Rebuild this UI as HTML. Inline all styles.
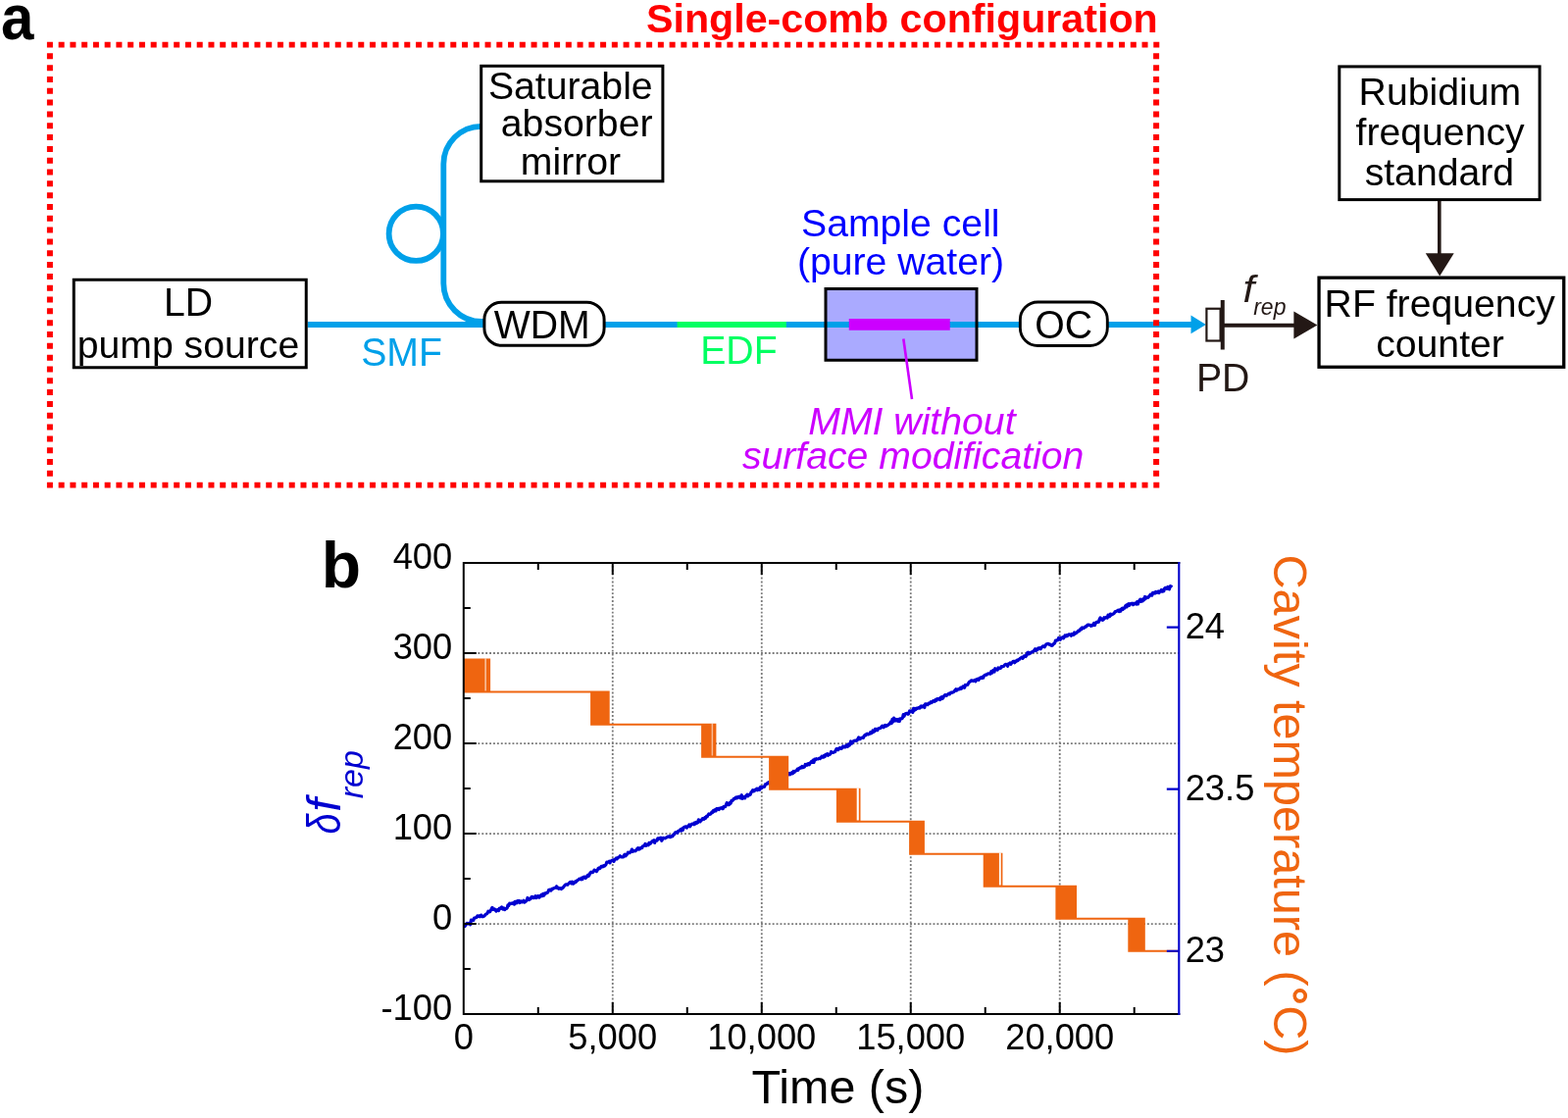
<!DOCTYPE html>
<html><head><meta charset="utf-8"><title>Single-comb configuration</title>
<style>html,body{margin:0;padding:0;background:#fff;width:1599px;height:1140px;overflow:hidden}svg{display:block}</style>
</head><body>
<svg width="1599" height="1140" viewBox="0 0 1599 1140" font-family='"Liberation Sans", Arial, Helvetica, sans-serif'><text transform="translate(1.0,39.6) scale(0.925,1)" font-size="65" font-weight="bold" fill="#000">a</text>
<text x="659.00" y="33.00" font-size="41.2" fill="#ff0000" font-weight="bold">Single-comb configuration</text>
<path d="M313.75 331H500" stroke="#00a0e9" stroke-width="5.8" fill="none"/>
<path d="M491 128.8A38.5 38.5 0 0 0 452.3 167.3V289A39 39 0 0 0 491.3 328H496" stroke="#00a0e9" stroke-width="5.8" fill="none"/>
<circle cx="424.3" cy="238.25" r="27.7" stroke="#00a0e9" stroke-width="5.8" fill="none"/>
<path d="M615 331H1216" stroke="#00a0e9" stroke-width="5.8" fill="none"/>
<path d="M690.6 331H801.8" stroke="#00ff62" stroke-width="6" fill="none"/>
<path d="M1214.5 321.5L1229.8 330.9L1214.5 340.3z" fill="#00a0e9"/>
<rect x="75.25" y="285.25" width="237.00" height="89.50" rx="0" fill="#fff" stroke="#000" stroke-width="3"/>
<rect x="490.70" y="67.30" width="185.20" height="117.50" rx="0" fill="#fff" stroke="#000" stroke-width="3"/>
<rect x="493.90" y="308.20" width="122.20" height="44.10" rx="17.5" fill="#fff" stroke="#000" stroke-width="3.0"/>
<rect x="1040.35" y="307.95" width="88.95" height="44.60" rx="18" fill="#fff" stroke="#000" stroke-width="2.9"/>
<rect x="842" y="294.5" width="154" height="72.75" fill="#aaaaff"/>
<path d="M842 331H996" stroke="#00a0e9" stroke-width="5.8"/>
<rect x="865.75" y="325" width="103" height="11.75" fill="#cc00ff"/>
<rect x="842" y="294.5" width="154" height="72.75" fill="none" stroke="#000" stroke-width="3"/>
<path d="M921.3 345.5L930 407" stroke="#cc00ff" stroke-width="2.6"/>
<rect x="1365.80" y="67.90" width="204.30" height="135.70" rx="0" fill="#fff" stroke="#000" stroke-width="3"/>
<rect x="1345.05" y="283.15" width="249.70" height="91.10" rx="0" fill="#fff" stroke="#000" stroke-width="3.3"/>
<rect x="1230.4" y="314.75" width="14.2" height="32.75" fill="#fff" stroke="#231815" stroke-width="2.2"/>
<rect x="1244.75" y="306" width="4" height="50.5" fill="#231815"/>
<path d="M1248 331.8H1321" stroke="#231815" stroke-width="4"/>
<path d="M1319.4 317.5L1343.4 331.6L1319.4 345.6z" fill="#231815"/>
<path d="M1467.8 205H1467.8V259" stroke="#231815" stroke-width="3.6"/>
<path d="M1453.8 258.2H1482.7L1468.2 281.5z" fill="#231815"/>
<path d="M47.90 42.7h6v5.8h-6zM47.90 491.7h6v5.8h-6zM59.65 42.7h6v5.8h-6zM59.65 491.7h6v5.8h-6zM71.41 42.7h6v5.8h-6zM71.41 491.7h6v5.8h-6zM83.16 42.7h6v5.8h-6zM83.16 491.7h6v5.8h-6zM94.92 42.7h6v5.8h-6zM94.92 491.7h6v5.8h-6zM106.67 42.7h6v5.8h-6zM106.67 491.7h6v5.8h-6zM118.42 42.7h6v5.8h-6zM118.42 491.7h6v5.8h-6zM130.18 42.7h6v5.8h-6zM130.18 491.7h6v5.8h-6zM141.93 42.7h6v5.8h-6zM141.93 491.7h6v5.8h-6zM153.69 42.7h6v5.8h-6zM153.69 491.7h6v5.8h-6zM165.44 42.7h6v5.8h-6zM165.44 491.7h6v5.8h-6zM177.19 42.7h6v5.8h-6zM177.19 491.7h6v5.8h-6zM188.95 42.7h6v5.8h-6zM188.95 491.7h6v5.8h-6zM200.70 42.7h6v5.8h-6zM200.70 491.7h6v5.8h-6zM212.46 42.7h6v5.8h-6zM212.46 491.7h6v5.8h-6zM224.21 42.7h6v5.8h-6zM224.21 491.7h6v5.8h-6zM235.96 42.7h6v5.8h-6zM235.96 491.7h6v5.8h-6zM247.72 42.7h6v5.8h-6zM247.72 491.7h6v5.8h-6zM259.47 42.7h6v5.8h-6zM259.47 491.7h6v5.8h-6zM271.23 42.7h6v5.8h-6zM271.23 491.7h6v5.8h-6zM282.98 42.7h6v5.8h-6zM282.98 491.7h6v5.8h-6zM294.73 42.7h6v5.8h-6zM294.73 491.7h6v5.8h-6zM306.49 42.7h6v5.8h-6zM306.49 491.7h6v5.8h-6zM318.24 42.7h6v5.8h-6zM318.24 491.7h6v5.8h-6zM330.00 42.7h6v5.8h-6zM330.00 491.7h6v5.8h-6zM341.75 42.7h6v5.8h-6zM341.75 491.7h6v5.8h-6zM353.50 42.7h6v5.8h-6zM353.50 491.7h6v5.8h-6zM365.26 42.7h6v5.8h-6zM365.26 491.7h6v5.8h-6zM377.01 42.7h6v5.8h-6zM377.01 491.7h6v5.8h-6zM388.77 42.7h6v5.8h-6zM388.77 491.7h6v5.8h-6zM400.52 42.7h6v5.8h-6zM400.52 491.7h6v5.8h-6zM412.27 42.7h6v5.8h-6zM412.27 491.7h6v5.8h-6zM424.03 42.7h6v5.8h-6zM424.03 491.7h6v5.8h-6zM435.78 42.7h6v5.8h-6zM435.78 491.7h6v5.8h-6zM447.54 42.7h6v5.8h-6zM447.54 491.7h6v5.8h-6zM459.29 42.7h6v5.8h-6zM459.29 491.7h6v5.8h-6zM471.04 42.7h6v5.8h-6zM471.04 491.7h6v5.8h-6zM482.80 42.7h6v5.8h-6zM482.80 491.7h6v5.8h-6zM494.55 42.7h6v5.8h-6zM494.55 491.7h6v5.8h-6zM506.31 42.7h6v5.8h-6zM506.31 491.7h6v5.8h-6zM518.06 42.7h6v5.8h-6zM518.06 491.7h6v5.8h-6zM529.81 42.7h6v5.8h-6zM529.81 491.7h6v5.8h-6zM541.57 42.7h6v5.8h-6zM541.57 491.7h6v5.8h-6zM553.32 42.7h6v5.8h-6zM553.32 491.7h6v5.8h-6zM565.08 42.7h6v5.8h-6zM565.08 491.7h6v5.8h-6zM576.83 42.7h6v5.8h-6zM576.83 491.7h6v5.8h-6zM588.58 42.7h6v5.8h-6zM588.58 491.7h6v5.8h-6zM600.34 42.7h6v5.8h-6zM600.34 491.7h6v5.8h-6zM612.09 42.7h6v5.8h-6zM612.09 491.7h6v5.8h-6zM623.85 42.7h6v5.8h-6zM623.85 491.7h6v5.8h-6zM635.60 42.7h6v5.8h-6zM635.60 491.7h6v5.8h-6zM647.35 42.7h6v5.8h-6zM647.35 491.7h6v5.8h-6zM659.11 42.7h6v5.8h-6zM659.11 491.7h6v5.8h-6zM670.86 42.7h6v5.8h-6zM670.86 491.7h6v5.8h-6zM682.62 42.7h6v5.8h-6zM682.62 491.7h6v5.8h-6zM694.37 42.7h6v5.8h-6zM694.37 491.7h6v5.8h-6zM706.12 42.7h6v5.8h-6zM706.12 491.7h6v5.8h-6zM717.88 42.7h6v5.8h-6zM717.88 491.7h6v5.8h-6zM729.63 42.7h6v5.8h-6zM729.63 491.7h6v5.8h-6zM741.39 42.7h6v5.8h-6zM741.39 491.7h6v5.8h-6zM753.14 42.7h6v5.8h-6zM753.14 491.7h6v5.8h-6zM764.89 42.7h6v5.8h-6zM764.89 491.7h6v5.8h-6zM776.65 42.7h6v5.8h-6zM776.65 491.7h6v5.8h-6zM788.40 42.7h6v5.8h-6zM788.40 491.7h6v5.8h-6zM800.16 42.7h6v5.8h-6zM800.16 491.7h6v5.8h-6zM811.91 42.7h6v5.8h-6zM811.91 491.7h6v5.8h-6zM823.66 42.7h6v5.8h-6zM823.66 491.7h6v5.8h-6zM835.42 42.7h6v5.8h-6zM835.42 491.7h6v5.8h-6zM847.17 42.7h6v5.8h-6zM847.17 491.7h6v5.8h-6zM858.93 42.7h6v5.8h-6zM858.93 491.7h6v5.8h-6zM870.68 42.7h6v5.8h-6zM870.68 491.7h6v5.8h-6zM882.43 42.7h6v5.8h-6zM882.43 491.7h6v5.8h-6zM894.19 42.7h6v5.8h-6zM894.19 491.7h6v5.8h-6zM905.94 42.7h6v5.8h-6zM905.94 491.7h6v5.8h-6zM917.70 42.7h6v5.8h-6zM917.70 491.7h6v5.8h-6zM929.45 42.7h6v5.8h-6zM929.45 491.7h6v5.8h-6zM941.20 42.7h6v5.8h-6zM941.20 491.7h6v5.8h-6zM952.96 42.7h6v5.8h-6zM952.96 491.7h6v5.8h-6zM964.71 42.7h6v5.8h-6zM964.71 491.7h6v5.8h-6zM976.47 42.7h6v5.8h-6zM976.47 491.7h6v5.8h-6zM988.22 42.7h6v5.8h-6zM988.22 491.7h6v5.8h-6zM999.97 42.7h6v5.8h-6zM999.97 491.7h6v5.8h-6zM1011.73 42.7h6v5.8h-6zM1011.73 491.7h6v5.8h-6zM1023.48 42.7h6v5.8h-6zM1023.48 491.7h6v5.8h-6zM1035.24 42.7h6v5.8h-6zM1035.24 491.7h6v5.8h-6zM1046.99 42.7h6v5.8h-6zM1046.99 491.7h6v5.8h-6zM1058.74 42.7h6v5.8h-6zM1058.74 491.7h6v5.8h-6zM1070.50 42.7h6v5.8h-6zM1070.50 491.7h6v5.8h-6zM1082.25 42.7h6v5.8h-6zM1082.25 491.7h6v5.8h-6zM1094.01 42.7h6v5.8h-6zM1094.01 491.7h6v5.8h-6zM1105.76 42.7h6v5.8h-6zM1105.76 491.7h6v5.8h-6zM1117.51 42.7h6v5.8h-6zM1117.51 491.7h6v5.8h-6zM1129.27 42.7h6v5.8h-6zM1129.27 491.7h6v5.8h-6zM1141.02 42.7h6v5.8h-6zM1141.02 491.7h6v5.8h-6zM1152.78 42.7h6v5.8h-6zM1152.78 491.7h6v5.8h-6zM1164.53 42.7h6v5.8h-6zM1164.53 491.7h6v5.8h-6zM1176.28 42.7h6v5.8h-6zM1176.28 491.7h6v5.8h-6zM47.9 54.32h6v6h-6zM1176.1 54.32h6v6h-6zM47.9 66.14h6v6h-6zM1176.1 66.14h6v6h-6zM47.9 77.96h6v6h-6zM1176.1 77.96h6v6h-6zM47.9 89.78h6v6h-6zM1176.1 89.78h6v6h-6zM47.9 101.60h6v6h-6zM1176.1 101.60h6v6h-6zM47.9 113.42h6v6h-6zM1176.1 113.42h6v6h-6zM47.9 125.24h6v6h-6zM1176.1 125.24h6v6h-6zM47.9 137.06h6v6h-6zM1176.1 137.06h6v6h-6zM47.9 148.88h6v6h-6zM1176.1 148.88h6v6h-6zM47.9 160.70h6v6h-6zM1176.1 160.70h6v6h-6zM47.9 172.52h6v6h-6zM1176.1 172.52h6v6h-6zM47.9 184.34h6v6h-6zM1176.1 184.34h6v6h-6zM47.9 196.16h6v6h-6zM1176.1 196.16h6v6h-6zM47.9 207.98h6v6h-6zM1176.1 207.98h6v6h-6zM47.9 219.80h6v6h-6zM1176.1 219.80h6v6h-6zM47.9 231.62h6v6h-6zM1176.1 231.62h6v6h-6zM47.9 243.44h6v6h-6zM1176.1 243.44h6v6h-6zM47.9 255.26h6v6h-6zM1176.1 255.26h6v6h-6zM47.9 267.08h6v6h-6zM1176.1 267.08h6v6h-6zM47.9 278.90h6v6h-6zM1176.1 278.90h6v6h-6zM47.9 290.72h6v6h-6zM1176.1 290.72h6v6h-6zM47.9 302.54h6v6h-6zM1176.1 302.54h6v6h-6zM47.9 314.36h6v6h-6zM1176.1 314.36h6v6h-6zM47.9 326.18h6v6h-6zM1176.1 326.18h6v6h-6zM47.9 338.00h6v6h-6zM1176.1 338.00h6v6h-6zM47.9 349.82h6v6h-6zM1176.1 349.82h6v6h-6zM47.9 361.64h6v6h-6zM1176.1 361.64h6v6h-6zM47.9 373.46h6v6h-6zM1176.1 373.46h6v6h-6zM47.9 385.28h6v6h-6zM1176.1 385.28h6v6h-6zM47.9 397.10h6v6h-6zM1176.1 397.10h6v6h-6zM47.9 408.92h6v6h-6zM1176.1 408.92h6v6h-6zM47.9 420.74h6v6h-6zM1176.1 420.74h6v6h-6zM47.9 432.56h6v6h-6zM1176.1 432.56h6v6h-6zM47.9 444.38h6v6h-6zM1176.1 444.38h6v6h-6zM47.9 456.20h6v6h-6zM1176.1 456.20h6v6h-6zM47.9 468.02h6v6h-6zM1176.1 468.02h6v6h-6zM47.9 479.84h6v6h-6zM1176.1 479.84h6v6h-6z" fill="#ff0000"/>
<text transform="translate(166.90,321.75) scale(1,1.04)" font-size="39.2" fill="#000">LD</text>
<text x="78.70" y="364.50" font-size="39.2" fill="#000">pump source</text>
<text transform="translate(368.20,373.00) scale(1,1.04)" font-size="39.2" fill="#00a0e9">SMF</text>
<text x="497.90" y="100.80" font-size="39.2" fill="#000">Saturable</text>
<text x="510.84" y="139.00" font-size="39.2" fill="#000">absorber</text>
<text x="530.86" y="177.90" font-size="39.2" fill="#000">mirror</text>
<text transform="translate(503.80,345.10) scale(1,1.04)" font-size="39.2" fill="#000">WDM</text>
<text transform="translate(714.20,371.40) scale(1,1.04)" font-size="39.2" fill="#00ff62">EDF</text>
<text x="817.00" y="240.50" font-size="39.2" fill="#0000ff">Sample cell</text>
<text x="812.90" y="279.60" font-size="39.2" fill="#0000ff">(pure water)</text>
<text transform="translate(1055.20,344.50) scale(1,1.04)" font-size="39.2" fill="#000">OC</text>
<text x="824.30" y="442.60" font-size="39.2" fill="#cc00ff" font-style="italic">MMI without</text>
<text x="756.90" y="478.30" font-size="39.2" fill="#cc00ff" font-style="italic">surface modification</text>
<text transform="translate(1219.90,398.50) scale(1,1.04)" font-size="39.2" fill="#231815">PD</text>
<text transform="translate(1267.5,307.5) scale(1.12,1)" font-size="38" fill="#231815" font-style="italic">f</text>
<text x="1278.20" y="320.60" font-size="23" fill="#231815" font-style="italic">rep</text>
<text x="1385.60" y="107.30" font-size="39.2" fill="#000">Rubidium</text>
<text x="1382.52" y="148.40" font-size="39.2" fill="#000">frequency</text>
<text x="1391.63" y="188.70" font-size="39.2" fill="#000">standard</text>
<text x="1350.60" y="323.10" font-size="39.2" fill="#000">RF frequency</text>
<text x="1403.20" y="364.30" font-size="39.2" fill="#000">counter</text>
<text x="327.70" y="598.80" font-size="66" fill="#000" font-weight="bold">b</text>
<path d="M624.78 574.00V1034.10M776.76 574.00V1034.10M928.74 574.00V1034.10M1080.72 574.00V1034.10M472.80 666.02H1202.30M472.80 758.04H1202.30M472.80 850.06H1202.30M472.80 942.08H1202.30" stroke="#7a7a7a" stroke-width="1.8" stroke-dasharray="1.9 2" stroke-dashoffset="1" fill="none"/>
<polyline points="473.2,944.2 474.0,944.6 474.8,943.3 475.6,942.0 476.4,941.3 477.2,942.0 478.0,941.9 478.8,941.3 479.6,942.8 480.4,938.2 481.2,938.8 482.0,937.8 482.8,938.3 483.6,936.0 484.4,935.9 485.2,935.7 486.0,935.4 486.8,934.0 487.6,934.3 488.4,933.9 489.2,934.7 490.0,933.4 490.8,933.1 491.6,934.7 492.4,934.7 493.2,934.3 494.0,934.0 494.8,932.9 495.6,932.0 496.4,932.0 497.2,930.6 498.0,929.1 498.8,930.0 499.6,929.8 500.4,928.2 501.2,926.8 502.0,925.3 502.8,927.5 503.6,927.5 504.4,926.9 505.2,928.2 506.0,929.0 506.8,927.7 507.6,927.5 508.4,928.6 509.2,926.3 510.0,926.1 510.8,926.5 511.6,924.9 512.4,925.7 513.2,927.1 514.0,926.0 514.8,927.6 515.6,926.5 516.4,926.5 517.2,925.7 518.0,922.8 518.8,923.3 519.6,921.2 520.4,921.7 521.2,921.1 522.0,921.4 522.8,921.2 523.6,920.4 524.4,922.2 525.2,919.4 526.0,920.0 526.8,920.9 527.6,918.7 528.4,919.8 529.2,918.4 530.0,920.6 530.8,919.8 531.6,918.9 532.4,919.8 533.2,919.7 534.0,918.3 534.8,920.1 535.6,919.5 536.4,918.9 537.2,917.9 538.0,915.5 538.8,916.3 539.6,917.5 540.4,916.9 541.2,916.5 542.0,914.5 542.8,914.4 543.6,915.3 544.4,915.7 545.2,915.2 546.0,913.7 546.8,915.6 547.6,915.1 548.4,913.7 549.2,913.8 550.0,915.1 550.8,913.4 551.6,913.8 552.4,912.1 553.2,913.6 554.0,911.5 554.8,913.0 555.6,910.9 556.4,911.3 557.2,910.4 558.0,910.5 558.8,909.7 559.6,907.5 560.4,907.2 561.2,907.5 562.0,908.1 562.8,906.3 563.6,906.5 564.4,905.8 565.2,905.6 566.0,905.1 566.8,905.1 567.6,903.8 568.4,905.6 569.2,905.1 570.0,906.2 570.8,905.6 571.6,905.9 572.4,906.5 573.2,905.4 574.0,905.5 574.8,904.2 575.6,903.2 576.4,902.4 577.2,901.8 578.0,901.8 578.8,902.2 579.6,901.1 580.4,900.4 581.2,899.6 582.0,899.4 582.8,900.9 583.6,899.1 584.4,901.2 585.2,900.5 586.0,900.1 586.8,898.7 587.6,899.2 588.4,898.0 589.2,897.4 590.0,897.1 590.8,896.0 591.6,896.2 592.4,896.8 593.2,895.1 594.0,896.5 594.8,894.5 595.6,894.0 596.4,894.0 597.2,895.3 598.0,894.5 598.8,893.3 599.6,892.2 600.4,893.2 601.2,891.7 602.0,889.9 602.8,889.2 603.6,889.7 604.4,889.6 605.2,888.7 606.0,887.1 606.8,887.4 607.6,887.7 608.4,888.5 609.2,887.4 610.0,885.6 610.8,885.0 611.6,885.6 612.4,884.8 613.2,883.3 614.0,883.4 614.8,883.8 615.6,882.6 616.4,883.2 617.2,882.4 618.0,881.5 618.8,879.1 619.6,879.2 620.4,879.1 621.2,878.3 622.0,879.9 622.8,878.1 623.6,877.8 624.4,877.1 625.2,877.0 626.0,878.4 626.8,876.3 627.6,876.1 628.4,875.0 629.2,875.8 630.0,874.8 630.8,874.0 631.6,873.9 632.4,872.8 633.2,873.6 634.0,873.9 634.8,873.8 635.6,873.8 636.4,872.0 637.2,871.1 638.0,872.8 638.8,871.9 639.6,871.0 640.4,869.1 641.2,869.5 642.0,869.7 642.8,868.7 643.6,868.6 644.4,866.1 645.2,868.4 646.0,867.6 646.8,867.5 647.6,867.8 648.4,867.3 649.2,866.5 650.0,865.1 650.8,864.6 651.6,866.1 652.4,865.7 653.2,864.7 654.0,864.2 654.8,864.5 655.6,862.7 656.4,862.5 657.2,862.2 658.0,860.4 658.8,862.3 659.6,861.8 660.4,861.0 661.2,861.7 662.0,859.3 662.8,860.5 663.6,859.9 664.4,858.6 665.2,857.7 666.0,857.3 666.8,856.8 667.6,859.4 668.4,857.0 669.2,857.1 670.0,857.2 670.8,854.8 671.6,855.5 672.4,854.7 673.2,855.0 674.0,854.1 674.8,857.3 675.6,855.5 676.4,854.4 677.2,854.5 678.0,854.8 678.8,854.3 679.6,854.2 680.4,853.4 681.2,853.0 682.0,853.3 682.8,852.7 683.6,853.6 684.4,852.7 685.2,853.0 686.0,852.7 686.8,850.9 687.6,850.9 688.4,849.0 689.2,848.7 690.0,848.7 690.8,849.2 691.6,847.5 692.4,847.1 693.2,846.9 694.0,845.8 694.8,847.1 695.6,845.0 696.4,846.3 697.2,843.8 698.0,843.2 698.8,842.9 699.6,842.9 700.4,844.1 701.2,842.6 702.0,842.5 702.8,841.0 703.6,842.9 704.4,841.7 705.2,840.4 706.0,840.1 706.8,840.1 707.6,840.7 708.4,839.0 709.2,840.0 710.0,838.5 710.8,839.3 711.6,838.7 712.4,835.8 713.2,837.2 714.0,837.9 714.8,836.8 715.6,836.0 716.4,834.7 717.2,834.8 718.0,835.4 718.8,833.6 719.6,834.2 720.4,832.3 721.2,832.7 722.0,831.1 722.8,830.0 723.6,830.4 724.4,830.2 725.2,829.2 726.0,828.0 726.8,828.5 727.6,826.3 728.4,827.3 729.2,825.7 730.0,826.9 730.8,824.6 731.6,825.2 732.4,824.5 733.2,825.5 734.0,824.0 734.8,824.0 735.6,823.6 736.4,824.6 737.2,824.7 738.0,822.4 738.8,822.4 739.6,822.7 740.4,820.8 741.2,818.6 742.0,820.1 742.8,820.7 743.6,820.4 744.4,818.3 745.2,819.1 746.0,816.3 746.8,816.5 747.6,815.8 748.4,814.4 749.2,814.6 750.0,813.4 750.8,813.0 751.6,813.9 752.4,812.6 753.2,812.6 754.0,812.2 754.8,813.7 755.6,813.9 756.4,810.7 757.2,814.3 758.0,813.9 758.8,812.8 759.6,813.9 760.4,811.7 761.2,811.4 762.0,810.2 762.8,811.9 763.6,810.7 764.4,810.0 765.2,810.3 766.0,807.7 766.8,807.3 767.6,805.7 768.4,806.8 769.2,806.7 770.0,805.4 770.8,805.2 771.6,804.3 772.4,805.7 773.2,804.0 774.0,804.2 774.8,805.3 775.6,802.3 776.4,803.7 777.2,803.0 778.0,802.4 778.8,802.4 779.6,802.2 780.4,799.9 781.2,799.7 782.0,799.3 782.8,798.3 783.6,797.8 784.4,799.0 785.2,797.3 786.0,798.6 786.8,796.4 787.6,797.1 788.4,795.4 789.2,796.8 790.0,796.0 790.8,794.4 791.6,796.1 792.4,795.6 793.2,795.1 794.0,793.3 794.8,794.9 795.6,793.5 796.4,791.6 797.2,791.9 798.0,792.5 798.8,790.6 799.6,791.9 800.4,790.7 801.2,791.5 802.0,789.0 802.8,790.2 803.6,788.7 804.4,789.8 805.2,788.5 806.0,789.7 806.8,788.5 807.6,787.8 808.4,788.8 809.2,786.5 810.0,787.5 810.8,786.4 811.6,786.0 812.4,785.8 813.2,784.2 814.0,785.2 814.8,783.4 815.6,783.5 816.4,782.5 817.2,782.9 818.0,781.4 818.8,782.6 819.6,782.0 820.4,782.1 821.2,779.5 822.0,780.0 822.8,780.3 823.6,778.8 824.4,778.7 825.2,779.8 826.0,777.8 826.8,777.8 827.6,776.3 828.4,777.4 829.2,775.2 830.0,777.4 830.8,774.2 831.6,774.7 832.4,773.6 833.2,774.0 834.0,774.0 834.8,773.6 835.6,773.1 836.4,773.5 837.2,772.6 838.0,771.2 838.8,771.8 839.6,772.2 840.4,770.3 841.2,771.5 842.0,769.3 842.8,769.7 843.6,768.6 844.4,770.3 845.2,769.4 846.0,769.3 846.8,768.8 847.6,766.5 848.4,767.5 849.2,767.3 850.0,767.3 850.8,766.7 851.6,766.6 852.4,764.7 853.2,763.5 854.0,763.8 854.8,764.6 855.6,763.0 856.4,762.5 857.2,763.3 858.0,763.5 858.8,762.4 859.6,760.9 860.4,761.8 861.2,761.8 862.0,761.9 862.8,760.0 863.6,759.9 864.4,761.3 865.2,758.8 866.0,760.2 866.8,759.1 867.6,756.0 868.4,758.2 869.2,757.5 870.0,756.1 870.8,755.3 871.6,755.3 872.4,755.0 873.2,755.4 874.0,755.0 874.8,753.4 875.6,751.9 876.4,753.7 877.2,753.7 878.0,752.5 878.8,752.3 879.6,752.1 880.4,752.4 881.2,750.4 882.0,749.5 882.8,749.9 883.6,748.6 884.4,748.1 885.2,748.9 886.0,748.6 886.8,748.3 887.6,746.7 888.4,747.8 889.2,747.2 890.0,745.0 890.8,746.3 891.6,745.9 892.4,743.4 893.2,743.4 894.0,744.7 894.8,744.6 895.6,742.8 896.4,742.8 897.2,742.6 898.0,742.5 898.8,741.1 899.6,740.2 900.4,740.4 901.2,741.7 902.0,739.9 902.8,739.5 903.6,740.5 904.4,739.5 905.2,739.7 906.0,738.8 906.8,738.3 907.6,737.5 908.4,736.0 909.2,737.5 910.0,733.3 910.8,735.9 911.6,732.1 912.4,734.9 913.2,734.9 914.0,733.4 914.8,734.2 915.6,735.3 916.4,733.5 917.2,735.6 918.0,732.8 918.8,733.1 919.6,732.8 920.4,732.0 921.2,728.6 922.0,730.3 922.8,728.7 923.6,727.5 924.4,727.6 925.2,727.3 926.0,728.2 926.8,727.5 927.6,725.0 928.4,725.5 929.2,724.8 930.0,724.9 930.8,726.4 931.6,722.4 932.4,724.5 933.2,722.4 934.0,723.3 934.8,722.2 935.6,722.3 936.4,721.8 937.2,721.5 938.0,722.1 938.8,720.3 939.6,719.9 940.4,720.9 941.2,720.4 942.0,719.4 942.8,721.5 943.6,717.8 944.4,717.9 945.2,718.1 946.0,718.6 946.8,717.2 947.6,717.5 948.4,716.8 949.2,715.7 950.0,716.5 950.8,715.8 951.6,714.7 952.4,714.6 953.2,715.2 954.0,713.3 954.8,714.2 955.6,712.6 956.4,712.6 957.2,713.0 958.0,712.3 958.8,713.5 959.6,711.1 960.4,710.6 961.2,712.3 962.0,711.2 962.8,709.4 963.6,708.7 964.4,708.6 965.2,709.4 966.0,708.2 966.8,708.0 967.6,707.1 968.4,707.9 969.2,706.7 970.0,706.0 970.8,706.3 971.6,706.0 972.4,705.8 973.2,704.9 974.0,703.7 974.8,702.8 975.6,704.1 976.4,703.4 977.2,702.6 978.0,702.8 978.8,702.7 979.6,701.2 980.4,702.3 981.2,701.3 982.0,699.9 982.8,699.9 983.6,701.2 984.4,698.5 985.2,698.9 986.0,698.2 986.8,698.2 987.6,696.6 988.4,695.4 989.2,695.2 990.0,694.2 990.8,693.8 991.6,694.2 992.4,694.3 993.2,693.9 994.0,693.4 994.8,694.8 995.6,692.9 996.4,693.1 997.2,692.1 998.0,693.3 998.8,692.0 999.6,691.0 1000.4,690.8 1001.2,691.5 1002.0,690.2 1002.8,691.0 1003.6,689.0 1004.4,688.4 1005.2,688.0 1006.0,688.1 1006.8,687.2 1007.6,686.9 1008.4,686.8 1009.2,686.9 1010.0,687.2 1010.8,684.6 1011.6,686.2 1012.4,683.9 1013.2,683.1 1014.0,685.0 1014.8,681.7 1015.6,682.4 1016.4,682.2 1017.2,683.1 1018.0,680.9 1018.8,681.6 1019.6,681.4 1020.4,681.4 1021.2,679.6 1022.0,680.0 1022.8,679.5 1023.6,679.4 1024.4,678.2 1025.2,677.5 1026.0,677.3 1026.8,677.8 1027.6,679.3 1028.4,676.9 1029.2,677.0 1030.0,675.9 1030.8,677.3 1031.6,676.1 1032.4,675.4 1033.2,674.3 1034.0,674.4 1034.8,675.7 1035.6,674.1 1036.4,674.4 1037.2,673.1 1038.0,673.6 1038.8,672.5 1039.6,672.3 1040.4,671.2 1041.2,671.0 1042.0,670.2 1042.8,671.4 1043.6,670.5 1044.4,668.8 1045.2,668.9 1046.0,669.5 1046.8,668.4 1047.6,665.8 1048.4,665.1 1049.2,666.9 1050.0,665.9 1050.8,666.1 1051.6,665.0 1052.4,664.9 1053.2,664.4 1054.0,664.0 1054.8,662.9 1055.6,661.8 1056.4,663.5 1057.2,661.9 1058.0,662.5 1058.8,660.9 1059.6,661.0 1060.4,660.6 1061.2,661.7 1062.0,660.0 1062.8,659.9 1063.6,658.8 1064.4,659.1 1065.2,659.7 1066.0,658.4 1066.8,657.0 1067.6,656.7 1068.4,656.4 1069.2,656.4 1070.0,657.3 1070.8,657.0 1071.6,657.8 1072.4,658.3 1073.2,658.1 1074.0,656.8 1074.8,656.5 1075.6,655.8 1076.4,653.1 1077.2,653.2 1078.0,652.8 1078.8,652.7 1079.6,650.5 1080.4,651.4 1081.2,652.3 1082.0,650.4 1082.8,650.7 1083.6,649.8 1084.4,650.9 1085.2,649.6 1086.0,647.9 1086.8,648.9 1087.6,647.6 1088.4,648.6 1089.2,647.3 1090.0,646.8 1090.8,646.9 1091.6,647.5 1092.4,648.2 1093.2,646.4 1094.0,646.9 1094.8,647.3 1095.6,644.9 1096.4,646.2 1097.2,645.1 1098.0,645.2 1098.8,644.3 1099.6,643.1 1100.4,643.5 1101.2,642.8 1102.0,641.1 1102.8,641.6 1103.6,639.9 1104.4,640.7 1105.2,640.5 1106.0,639.7 1106.8,638.8 1107.6,639.2 1108.4,638.0 1109.2,637.2 1110.0,637.1 1110.8,637.4 1111.6,637.3 1112.4,638.2 1113.2,637.4 1114.0,637.9 1114.8,637.3 1115.6,635.5 1116.4,637.5 1117.2,635.7 1118.0,634.5 1118.8,634.2 1119.6,634.4 1120.4,634.2 1121.2,631.4 1122.0,629.9 1122.8,631.9 1123.6,631.3 1124.4,632.3 1125.2,631.9 1126.0,629.7 1126.8,630.3 1127.6,630.0 1128.4,629.1 1129.2,630.0 1130.0,627.1 1130.8,627.8 1131.6,628.6 1132.4,626.1 1133.2,627.2 1134.0,626.3 1134.8,626.4 1135.6,625.7 1136.4,625.1 1137.2,623.6 1138.0,623.6 1138.8,623.1 1139.6,622.7 1140.4,622.1 1141.2,623.6 1142.0,622.0 1142.8,623.2 1143.6,620.9 1144.4,620.2 1145.2,621.4 1146.0,619.8 1146.8,620.1 1147.6,618.1 1148.4,617.1 1149.2,618.8 1150.0,616.3 1150.8,615.7 1151.6,617.3 1152.4,615.7 1153.2,616.0 1154.0,615.4 1154.8,615.2 1155.6,616.6 1156.4,616.0 1157.2,615.1 1158.0,615.0 1158.8,616.1 1159.6,613.6 1160.4,615.9 1161.2,613.4 1162.0,612.3 1162.8,611.1 1163.6,613.4 1164.4,611.5 1165.2,612.8 1166.0,610.6 1166.8,611.7 1167.6,608.5 1168.4,610.3 1169.2,609.1 1170.0,609.4 1170.8,609.4 1171.6,608.3 1172.4,607.5 1173.2,606.2 1174.0,606.3 1174.8,607.1 1175.6,604.5 1176.4,605.1 1177.2,604.1 1178.0,605.1 1178.8,603.4 1179.6,604.4 1180.4,603.9 1181.2,603.0 1182.0,604.6 1182.8,603.1 1183.6,602.7 1184.4,601.5 1185.2,603.2 1186.0,601.7 1186.8,602.7 1187.6,600.0 1188.4,599.4 1189.2,599.6 1190.0,600.4 1190.8,598.5 1191.6,599.6 1192.4,600.8 1193.2,597.9 1194.0,598.0 1194.8,596.5" fill="none" stroke="#0000d0" stroke-width="3.2" stroke-linejoin="round"/>
<path d="M472.80 671.61H500.10V706.62H472.80zM500.10 704.62H602.10V706.62H500.10zM602.10 704.62H621.70V739.63H602.10zM621.70 737.63H715.10V739.63H621.70zM715.10 737.63H730.40V772.64H715.10zM730.40 770.64H784.10V772.64H730.40zM784.10 770.64H804.20V805.65H784.10zM804.20 803.65H852.90V805.65H804.20zM852.90 803.65H877.50V838.66H852.90zM877.50 836.66H927.10V838.66H877.50zM927.10 836.66H942.90V871.67H927.10zM942.90 869.67H1002.70V871.67H942.90zM1002.70 869.67H1022.40V904.68H1002.70zM1022.40 902.68H1076.40V904.68H1022.40zM1076.40 902.68H1098.00V937.69H1076.40zM1098.00 935.69H1150.30V937.69H1098.00zM1150.30 935.69H1167.80V970.70H1150.30zM1167.80 968.70H1201.00V970.70H1167.80z" fill="#ef6510"/>
<rect x="494.30" y="671.41" width="1.70" height="33.01" fill="#fff" fill-opacity="0.55"/>
<rect x="725.60" y="737.43" width="1.50" height="33.01" fill="#fff" fill-opacity="0.55"/>
<rect x="873.70" y="803.45" width="2.10" height="33.01" fill="#fff" fill-opacity="1.0"/>
<rect x="1018.90" y="869.47" width="1.80" height="33.01" fill="#fff" fill-opacity="1.0"/>
<path d="M472.80 574.00H1203.30M472.80 573.00V1035.10M471.80 1034.10H1203.30M472.80 1034.10h13M472.80 988.09h7M472.80 942.08h13M472.80 896.07h7M472.80 850.06h13M472.80 804.05h7M472.80 758.04h13M472.80 712.03h7M472.80 666.02h13M472.80 620.01h7M472.80 574.00h13M472.80 1034.10v-12M472.80 574.00v12M548.79 1034.10v-7M548.79 574.00v7M624.78 1034.10v-12M624.78 574.00v12M700.77 1034.10v-7M700.77 574.00v7M776.76 1034.10v-12M776.76 574.00v12M852.75 1034.10v-7M852.75 574.00v7M928.74 1034.10v-12M928.74 574.00v12M1004.73 1034.10v-7M1004.73 574.00v7M1080.72 1034.10v-12M1080.72 574.00v12M1156.71 1034.10v-7M1156.71 574.00v7" stroke="#000" stroke-width="2" fill="none"/>
<path d="M1202.30 573.00V1035.10M1202.30 639.60h-12.5M1202.30 804.65h-12.5M1202.30 969.70h-12.5" stroke="#0000cc" stroke-width="2.1" fill="none"/>
<text x="461.20" y="1040.40" font-size="36.3" fill="#000" text-anchor="end">-100</text>
<text x="461.20" y="948.38" font-size="36.3" fill="#000" text-anchor="end">0</text>
<text x="461.20" y="856.36" font-size="36.3" fill="#000" text-anchor="end">100</text>
<text x="461.20" y="764.34" font-size="36.3" fill="#000" text-anchor="end">200</text>
<text x="461.20" y="672.32" font-size="36.3" fill="#000" text-anchor="end">300</text>
<text x="461.20" y="580.30" font-size="36.3" fill="#000" text-anchor="end">400</text>
<text x="472.80" y="1070.20" font-size="36.3" fill="#000" text-anchor="middle">0</text>
<text x="624.78" y="1070.20" font-size="36.3" fill="#000" text-anchor="middle">5,000</text>
<text x="776.76" y="1070.20" font-size="36.3" fill="#000" text-anchor="middle">10,000</text>
<text x="928.74" y="1070.20" font-size="36.3" fill="#000" text-anchor="middle">15,000</text>
<text x="1080.72" y="1070.20" font-size="36.3" fill="#000" text-anchor="middle">20,000</text>
<text x="766.40" y="1125.20" font-size="48.5" fill="#000">Time (s)</text>
<text x="1208.70" y="650.80" font-size="36.3" fill="#000">24</text>
<text x="1208.70" y="816.05" font-size="36.3" fill="#000">23.5</text>
<text x="1208.70" y="980.90" font-size="36.3" fill="#000">23</text>
<text transform="translate(1298.7,565.5) rotate(90)" font-size="48.6" fill="#ef6510">Cavity temperature (<tspan stroke="#ef6510" stroke-width="1.1">°</tspan>C)</text>
<text transform="translate(346.5,850.6) rotate(-90) scale(0.77,1)" font-size="49" fill="#0000d0" font-style="italic">δ</text>
<text transform="translate(346.5,827.7) rotate(-90)" font-size="49" fill="#0000d0" font-style="italic">f</text>
<text transform="translate(370.4,814.3) rotate(-90)" font-size="34" fill="#0000d0" font-style="italic">rep</text></svg>
</body></html>
